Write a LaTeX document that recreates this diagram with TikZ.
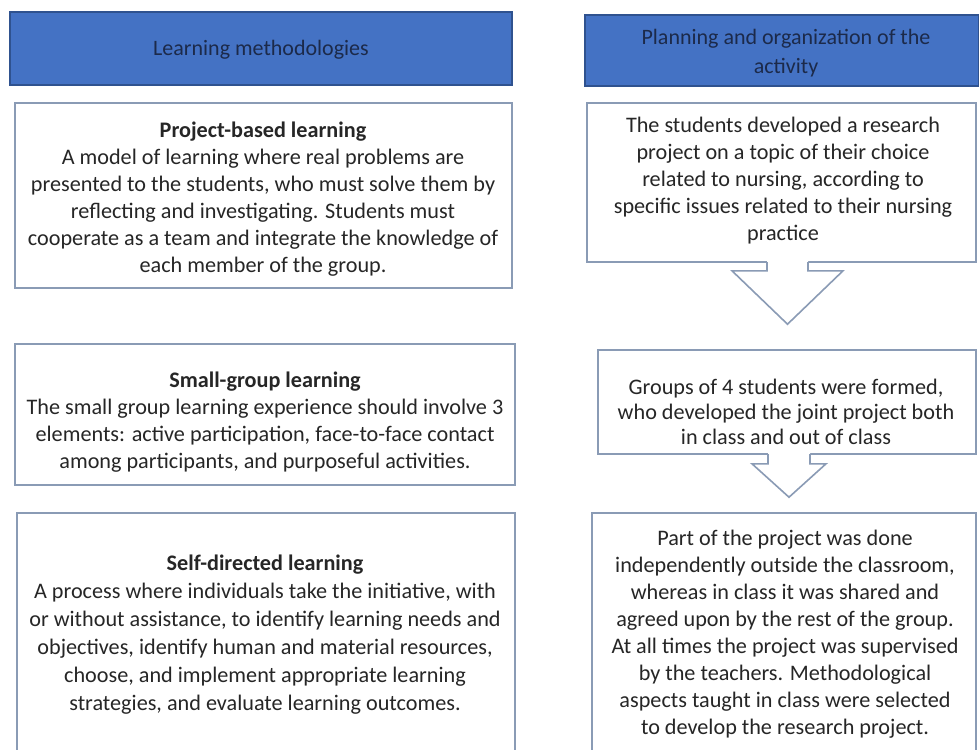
\documentclass[tikz,border=0pt]{standalone}
\usepackage{fontspec}
\setmainfont{Carlito}
\usetikzlibrary{fit,calc}
\definecolor{hdrfill}{HTML}{4472C4}
\definecolor{hdrdraw}{HTML}{2F528F}
\definecolor{hdrtext}{HTML}{1C2A4A}
\definecolor{boxline}{HTML}{8A9BB5}
\definecolor{bodytext}{HTML}{262626}
\begin{document}
\begin{tikzpicture}[x=1pt,y=-1pt,
  hdr/.style={draw=hdrdraw, fill=hdrfill, line width=1.2pt, inner sep=0pt},
  box/.style={draw=boxline, line width=1.6pt, inner sep=0pt},
  hdrtxt/.style={text=hdrtext, align=center, font=\fontsize{22}{29}\selectfont, inner sep=0pt},
  bodytxt/.style={text=bodytext, align=center, font=\fontsize{22.2}{27}\selectfont, inner sep=0pt},
  arrowline/.style={draw=boxline, line width=1.6pt, line join=miter}]
\useasboundingbox[fill=white] (0,0) rectangle (979,749);

% headers
\node[hdr, fit={(10,12) (512,85)}] (h1) {};
\node[hdrtxt] (h1t) at (261,50) {Learning methodologies};
\node[hdr, fit={(585,15) (979,86)}] (h2) {};
\node[hdrtxt] (h2t) at (786,53) {Planning and organization of the\\activity};

% left column
\node[box, fit={(15,103) (512,288)}] (l1) {};
\node[bodytxt] (l1t) at (263,199) {\textbf{Project-based learning}\\
A model of learning where real problems are\\
presented to the students, who must solve them by\\
reflecting and investigating. Students must\\
cooperate as a team and integrate the knowledge of\\
each member of the group.};

\node[box, fit={(15,344) (515,485)}] (l2) {};
\node[bodytxt] (l2t) at (265,422) {\textbf{Small-group learning}\\
The small group learning experience should involve 3\\
elements: active participation, face-to-face contact\\
among participants, and purposeful activities.};

\node[box, fit={(17,513) (515,765)}] (l3) {};
\node[bodytxt, font=\fontsize{22.2}{28}\selectfont] (l3t) at (265,635) {\textbf{Self-directed learning}\\
A process where individuals take the initiative, with\\
or without assistance, to identify learning needs and\\
objectives, identify human and material resources,\\
choose, and implement appropriate learning\\
strategies, and evaluate learning outcomes.};

% right column
\node[box, fit={(587,103) (976,262)}] (r1) {};
\node[bodytxt] (r1t) at (783,181) {The students developed a research\\
project on a topic of their choice\\
related to nursing, according to\\
specific issues related to their nursing\\
practice};

\node[box, fit={(598,350) (976,454)}] (r2) {};
\node[bodytxt, font=\fontsize{22.2}{25}\selectfont] (r2t) at (786,412) {Groups of 4 students were formed,\\
who developed the joint project both\\
in class and out of class};

\node[box, fit={(592,513) (976,765)}] (r3) {};
\node[bodytxt] (r3t) at (785,634) {Part of the project was done\\
independently outside the classroom,\\
whereas in class it was shared and\\
agreed upon by the rest of the group.\\
At all times the project was supervised\\
by the teachers. Methodological\\
aspects taught in class were selected\\
to develop the research project.};

% block arrows
\fill[white] let \p1=(r1.south), \p2=(r2.north) in
  ({767pt},{\y1+3pt}) -- ({767pt},{\y1-8pt}) -- ({732pt},{\y1-8pt}) --
  ({787.5pt},{\y2+25pt}) -- ({843pt},{\y1-8pt}) -- ({808pt},{\y1-8pt}) --
  ({808pt},{\y1+3pt}) -- cycle;
\draw[arrowline] let \p1=(r1.south), \p2=(r2.north) in
  ({767pt},{\y1+0.8pt}) -- ({767pt},{\y1-8pt}) -- ({732pt},{\y1-8pt}) --
  ({787.5pt},{\y2+25pt}) -- ({843pt},{\y1-8pt}) -- ({808pt},{\y1-8pt}) --
  ({808pt},{\y1+0.8pt});

\fill[white] let \p1=(r2.south), \p2=(r3.north) in
  ({768pt},{\y1+3pt}) -- ({768pt},{\y1-9pt}) -- ({752pt},{\y1-9pt}) --
  ({789pt},{\y2+15pt}) -- ({826pt},{\y1-9pt}) -- ({810pt},{\y1-9pt}) --
  ({810pt},{\y1+3pt}) -- cycle;
\draw[arrowline] let \p1=(r2.south), \p2=(r3.north) in
  ({768pt},{\y1+0.8pt}) -- ({768pt},{\y1-9pt}) -- ({752pt},{\y1-9pt}) --
  ({789pt},{\y2+15pt}) -- ({826pt},{\y1-9pt}) -- ({810pt},{\y1-9pt}) --
  ({810pt},{\y1+0.8pt});
\end{tikzpicture}
\end{document}
